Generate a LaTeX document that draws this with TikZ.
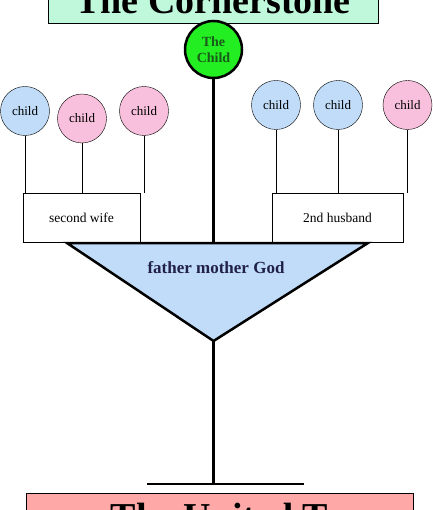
\documentclass[tikz,border=0pt]{standalone}
\usepackage{fontspec}
\setmainfont{Liberation Serif}
\usetikzlibrary{positioning}
\definecolor{kidblue}{HTML}{C0DCF8}
\definecolor{kidpink}{HTML}{F8C0DC}
\definecolor{stonegreen}{HTML}{C0F8DC}
\definecolor{unitedred}{HTML}{FFA8A8}
\definecolor{childgreen}{HTML}{22EE22}
\definecolor{darkleaf}{HTML}{1A5A1A}
\definecolor{godnavy}{HTML}{202048}
\begin{document}
\begin{tikzpicture}[x=1pt,y=-1pt,
kid/.style={circle,draw,minimum size=49pt,inner sep=0pt,font=\fontsize{13}{13}\selectfont},
boy/.style={kid,fill=kidblue},
girl/.style={kid,fill=kidpink},
spouse/.style={rectangle,draw,fill=white,minimum height=49pt,font=\fontsize{13.5}{14}\selectfont},
banner/.style={rectangle,draw,inner ysep=0pt,font=\fontsize{38}{38}\bfseries\selectfont},
thick line/.style={line width=3pt}]
\clip (0,0) rectangle (432,510);
% top and bottom banners
\node[banner,fill=stonegreen,anchor=base,minimum width=330pt,text height=40pt,text depth=9pt] (Corner) at (213,14) {The Cornerstone};
\node[banner,fill=unitedred,anchor=north,minimum width=387pt,text height=25pt,text depth=20pt,inner ysep=11pt] (United) at (219.5,493) {The United T\hspace{13pt}};
% the child on top
\node[circle,draw,line width=2.5pt,fill=childgreen,minimum size=57pt,inner sep=0pt,align=center,
  text=darkleaf,font=\fontsize{14}{16}\bfseries\selectfont] (TheChild) at (213.5,49.5) {The\\Child};
% spouses and their children
\node[spouse,minimum width=117pt] (Wife) at (81.5,217.5) {second wife};
\node[spouse,minimum width=131pt] (Husband) at (337.5,217.5) {2nd husband};
\node[boy] (k1) at (25,111) {child};
\node[girl] (k2) at (82,118.5) {child};
\node[girl] (k3) at (144,111) {child};
\node[boy] (k4) at (276,105) {child};
\node[boy] (k5) at (338,105) {child};
\node[girl] (k6) at (407.5,105) {child};
\draw (k1) -- (k1 |- Wife.north);
\draw (k2) -- (k2 |- Wife.north);
\draw (k3) -- (k3 |- Wife.north);
\draw (k4) -- (k4 |- Husband.north);
\draw (k5) -- (k5 |- Husband.north);
\draw (k6) -- (k6 |- Husband.north);
% the triangle
\coordinate (tl) at (67,243);
\coordinate (tr) at (368,243);
\coordinate (tip) at (213.5,341);
\coordinate (stem) at (213.5,243);
\coordinate (ground) at (213.5,484);
\coordinate (gl) at (147,484);
\coordinate (gr) at (304,484);
\draw[line width=2.5pt,fill=kidblue,line join=miter] (tl) -- (tr) -- (tip) -- cycle;
\node[text=godnavy,font=\fontsize{17}{17}\bfseries\selectfont] (God) at (216,268) {father mother God};
\draw[thick line] (TheChild) -- (stem);
\draw[thick line] (tip) -- (ground);
\draw[line width=2.5pt] (gl) -- (gr);
\end{tikzpicture}
\end{document}
